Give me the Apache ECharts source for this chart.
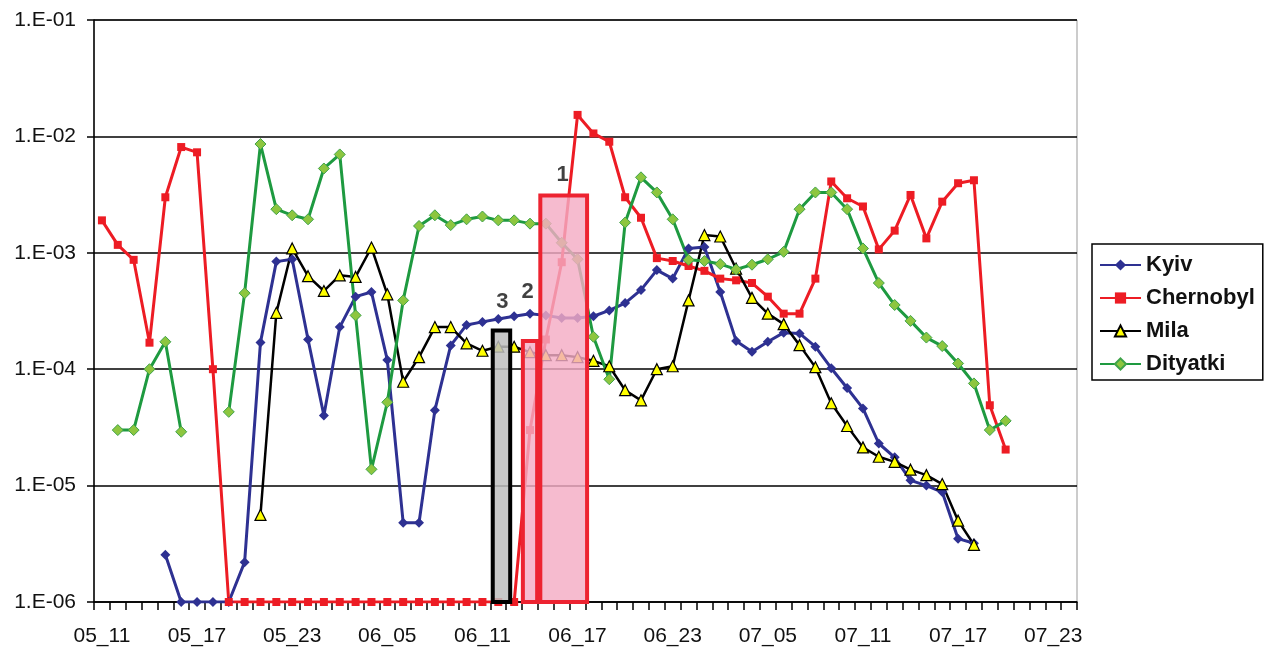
<!DOCTYPE html>
<html>
<head>
<meta charset="utf-8">
<script src="https://cdn.jsdelivr.net/npm/echarts@6/dist/echarts.min.js"></script>
<style>
html,body{margin:0;padding:0;background:#fff;}
#chart{width:1270px;height:651px;}
</style>
</head>
<body>
<div id="chart"></div>
<script>
const categories = ['05_11','05_12','05_13','05_14','05_15','05_16','05_17','05_18','05_19','05_20','05_21','05_22',
 '05_23','05_25','05_27','05_29','05_31','06_03','06_05','06_06','06_07','06_08','06_09','06_10',
 '06_11','06_12','06_13','06_14','06_15','06_16','06_17','06_18','06_19','06_20','06_21','06_22',
 '06_23','06_25','06_27','06_29','07_01','07_03','07_05','07_06','07_07','07_08','07_09','07_10',
 '07_11','07_12','07_13','07_14','07_15','07_16','07_17','07_18','07_19','07_20','07_21','07_22',
 '07_23','07_24'];
const yTickLabels = ['1.E-06','1.E-05','1.E-04','1.E-03','1.E-02','1.E-01'];

const kyiv = [null,null,null,null,2.55e-6,1e-6,1e-6,1e-6,1e-6,2.2e-6,1.7e-4,8.4e-4,
 8.8e-4,1.8e-4,4.0e-5,2.3e-4,4.2e-4,4.6e-4,1.2e-4,4.8e-6,4.8e-6,4.45e-5,1.6e-4,2.4e-4,
 2.55e-4,2.7e-4,2.85e-4,3.0e-4,2.9e-4,2.75e-4,2.75e-4,2.85e-4,3.2e-4,3.7e-4,4.8e-4,7.1e-4,
 6.0e-4,1.09e-3,1.12e-3,4.6e-4,1.75e-4,1.41e-4,1.72e-4,2.06e-4,2.03e-4,1.56e-4,1.02e-4,6.9e-5,
 4.6e-5,2.3e-5,1.75e-5,1.11e-5,1.0e-5,8.8e-6,3.5e-6,3.2e-6,null,null,null,null,null,null];
const chernobyl = [1.9e-3,1.17e-3,8.7e-4,1.69e-4,3.0e-3,8.1e-3,7.3e-3,1.0e-4,1e-6,1e-6,1e-6,1e-6,
 1e-6,1e-6,1e-6,1e-6,1e-6,1e-6,1e-6,1e-6,1e-6,1e-6,1e-6,1e-6,
 1e-6,1e-6,1e-6,3e-5,1.8e-4,8.3e-4,1.53e-2,1.06e-2,9.0e-3,3.0e-3,2.0e-3,9.0e-4,
 8.5e-4,7.7e-4,7.0e-4,6.0e-4,5.8e-4,5.5e-4,4.2e-4,3.0e-4,3.0e-4,6.0e-4,4.1e-3,2.94e-3,
 2.5e-3,1.07e-3,1.55e-3,3.14e-3,1.33e-3,2.75e-3,3.96e-3,4.2e-3,4.9e-5,2.04e-5,null,null,null,null];
const mila = [null,null,null,null,null,null,null,null,null,null,5.6e-6,3.05e-4,
 1.09e-3,6.3e-4,4.7e-4,6.4e-4,6.2e-4,1.11e-3,4.4e-4,7.8e-5,1.27e-4,2.3e-4,2.3e-4,1.67e-4,
 1.44e-4,1.56e-4,1.56e-4,1.4e-4,1.32e-4,1.32e-4,1.27e-4,1.18e-4,1.06e-4,6.6e-5,5.4e-5,1.0e-4,
 1.06e-4,3.9e-4,1.42e-3,1.38e-3,7.3e-4,4.1e-4,3.0e-4,2.44e-4,1.61e-4,1.04e-4,5.1e-5,3.25e-5,
 2.13e-5,1.77e-5,1.6e-5,1.37e-5,1.23e-5,1.03e-5,5.0e-6,3.1e-6,null,null,null,null,null,null];
const dityatki = [null,3.0e-5,3.0e-5,1.0e-4,1.72e-4,2.9e-5,null,null,4.3e-5,4.5e-4,8.6e-3,2.37e-3,
 2.1e-3,1.94e-3,5.3e-3,7.0e-3,2.9e-4,1.38e-5,5.2e-5,3.9e-4,1.7e-3,2.1e-3,1.73e-3,1.94e-3,
 2.05e-3,1.9e-3,1.9e-3,1.78e-3,1.78e-3,1.22e-3,8.8e-4,1.9e-4,8.2e-5,1.82e-3,4.45e-3,3.3e-3,
 1.94e-3,8.7e-4,8.5e-4,8.0e-4,7.2e-4,7.9e-4,8.8e-4,1.02e-3,2.37e-3,3.3e-3,3.3e-3,2.37e-3,
 1.09e-3,5.5e-4,3.56e-4,2.6e-4,1.87e-4,1.58e-4,1.12e-4,7.55e-5,3.0e-5,3.6e-5,null,null,null,null];

// highlighted sample windows: [start, end] in category-boundary units, top value, label
const boxStart = [28.15, 27.05, 25.15];
const boxEnd   = [31.1, 27.95, 26.25];
const boxTop   = [3.1e-3, 1.75e-4, 2.15e-4];
const boxNames = ['1','2','3'];
const labelX = [29.55, 27.35, 25.75];
const labelY = [4.7e-3, 4.6e-4, 3.8e-4];

const boxFill = ['rgba(244,172,196,0.82)','rgba(244,172,196,0.82)','rgba(190,190,190,0.85)'];
const boxStroke = ['#ED2331','#ED2331','#000000'];

const chart = echarts.init(document.getElementById('chart'), null, {renderer:'canvas'});
const font = 'Liberation Sans, Arial, sans-serif';

const boxData = boxStart.map((s,i)=>[s, boxEnd[i], boxTop[i], i]);
const labelData = labelX.map((x,i)=>({value:[x, labelY[i]], name: boxNames[i]}));

const option = {
  animation:false,
  backgroundColor:'#fff',
  grid:{left:94, right:193, top:20, bottom:49, show:true, borderColor:'#999', borderWidth:1, containLabel:false},
  legend:{
    orient:'vertical', left:1092, top:244,
    padding:[10,8,5,7], itemGap:11, itemWidth:41, itemHeight:14,
    borderColor:'#000', borderWidth:1.5, backgroundColor:'#fff',
    textStyle:{fontFamily:font, fontSize:22, fontWeight:'bold', color:'#111'},
    data:['Kyiv','Chernobyl','Mila','Dityatki']
  },
  xAxis:[{
    type:'category', data:categories, boundaryGap:true,
    axisLine:{lineStyle:{color:'#000', width:1.5}},
    axisTick:{show:true, interval:0, length:8, lineStyle:{color:'#000', width:1.5}},
    axisLabel:{interval:5, margin:24, fontFamily:font, fontSize:21, color:'#111'},
    splitLine:{show:false}
  },{
    type:'value', min:0, max:categories.length, show:false
  }],
  yAxis:[{
    type:'log', logBase:10, min:1e-6, max:1e-1,
    axisLine:{show:true, lineStyle:{color:'#000', width:1.5}},
    axisTick:{show:true, length:7, lineStyle:{color:'#000', width:1.5}},
    axisLabel:{margin:18, fontFamily:font, fontSize:21, color:'#111',
      formatter:v=>yTickLabels[Math.round(Math.log10(v))+6]},
    splitLine:{show:true, lineStyle:{color:['#000','#000','#000','#000','#000','#999'], width:1.5}},
    minorTick:{show:false}
  }],
  series:[
    {name:'Kyiv', type:'line', data:kyiv, connectNulls:false,
     symbol:'diamond', symbolSize:10, showAllSymbol:true,
     lineStyle:{color:'#2E3192', width:3}, itemStyle:{color:'#2E3192'}},
    {name:'Chernobyl', type:'line', data:chernobyl, connectNulls:false,
     symbol:'rect', symbolSize:8, showAllSymbol:true,
     lineStyle:{color:'#ED1C24', width:3}, itemStyle:{color:'#ED1C24'}},
    {name:'Mila', type:'line', data:mila, connectNulls:false,
     symbol:'triangle', symbolSize:11, showAllSymbol:true,
     lineStyle:{color:'#000', width:2.5}, itemStyle:{color:'#FFFF00', borderColor:'#000', borderWidth:1.2}},
    {name:'Dityatki', type:'line', data:dityatki, connectNulls:false,
     symbol:'diamond', symbolSize:11, showAllSymbol:true,
     lineStyle:{color:'#1E9A40', width:3}, itemStyle:{color:'#8DC63F', borderColor:'#3FA34A', borderWidth:1}},
    {name:'boxes', type:'custom', xAxisIndex:1, yAxisIndex:0, z:5,
     data:boxData,
     renderItem:(params, api)=>{
       const k = api.value(3);
       const p0 = api.coord([api.value(0), api.value(2)]);
       const p1 = api.coord([api.value(1), 1e-6]);
       return {type:'rect', shape:{x:p0[0], y:p0[1], width:p1[0]-p0[0], height:p1[1]-p0[1]},
         style:{fill:boxFill[k], stroke:boxStroke[k], lineWidth:4}};
     }},
    {name:'labels', type:'scatter', xAxisIndex:1, yAxisIndex:0, z:6,
     symbolSize:1, itemStyle:{color:'rgba(0,0,0,0)'},
     data:labelData,
     label:{show:true, position:'inside', formatter:'{b}', fontFamily:font, fontSize:22, fontWeight:'bold', color:'#111'}}
  ]
};
chart.setOption(option);
</script>
</body>
</html>
